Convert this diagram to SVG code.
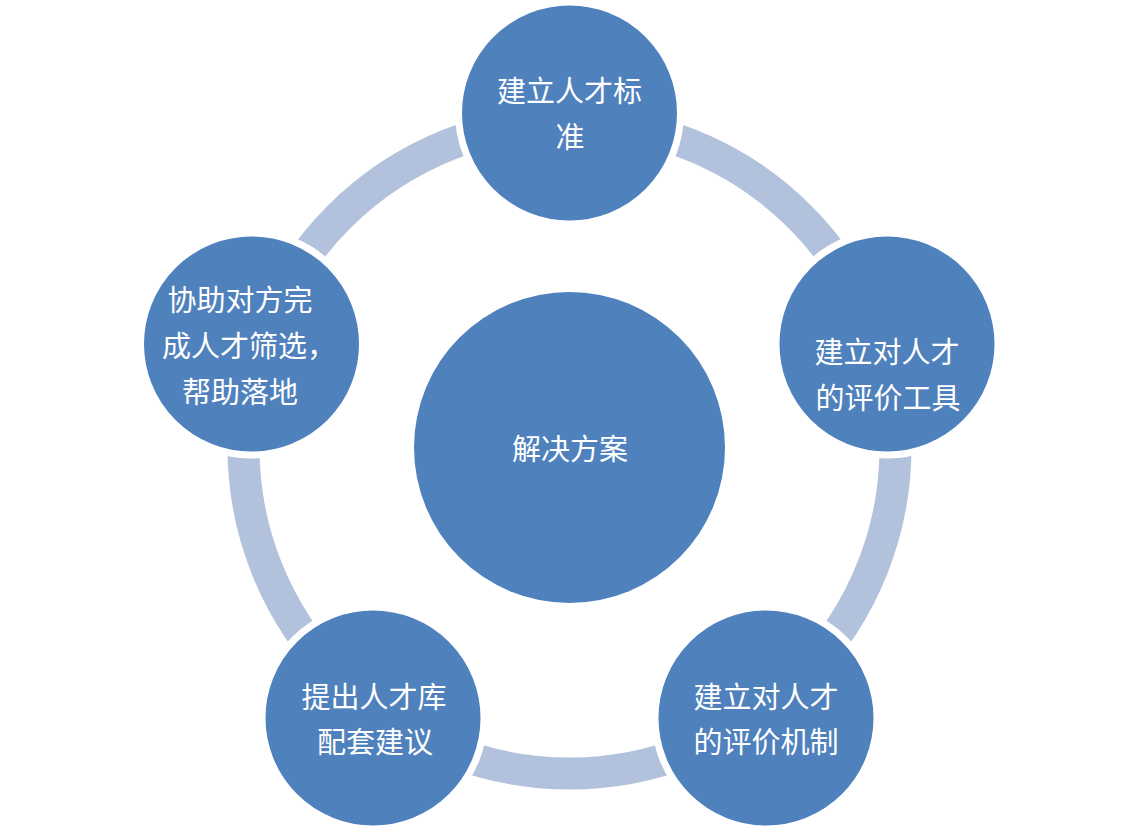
<svg xmlns="http://www.w3.org/2000/svg" width="1139" height="835" viewBox="0 0 1139 835">
<style>
.node{fill:#4F81BD;stroke:#FFFFFF;stroke-width:7}
.t{fill:#FFFFFF;font-family:"Microsoft YaHei","Noto Sans CJK SC",sans-serif;font-size:29px;text-anchor:middle}
</style>
<rect width="1139" height="835" fill="#FFFFFF"/>
<g id="connectors">
<circle cx="569.5" cy="447.5" r="326" fill="none" stroke="#B3C2DC" stroke-width="32"/>
</g>
<g id="center">
<circle cx="569.5" cy="447.5" r="155.5" fill="#4F81BD"/>
<text class="t" x="570" y="460">解决方案</text>
</g>
<g id="n1">
<circle class="node" cx="569.5" cy="113" r="111"/>
<text class="t" x="569.5" y="102">建立人才标</text>
<text class="t" x="570" y="148">准</text>
</g>
<g id="n2">
<circle class="node" cx="887" cy="344" r="111"/>
<text class="t" x="887" y="363">建立对人才</text>
<text class="t" x="888" y="409">的评价工具</text>
</g>
<g id="n3">
<circle class="node" cx="766" cy="718" r="111"/>
<text class="t" x="766" y="708">建立对人才</text>
<text class="t" x="766" y="753">的评价机制</text>
</g>
<g id="n4">
<circle class="node" cx="373" cy="718" r="111"/>
<text class="t" x="374" y="708">提出人才库</text>
<text class="t" x="375" y="753">配套建议</text>
</g>
<g id="n5">
<circle class="node" cx="251.5" cy="344" r="111"/>
<text class="t" x="240" y="311">协助对方完</text>
<text class="t" x="249" y="357">成人才筛选，</text>
<text class="t" x="240" y="403">帮助落地</text>
</g>
</svg>
